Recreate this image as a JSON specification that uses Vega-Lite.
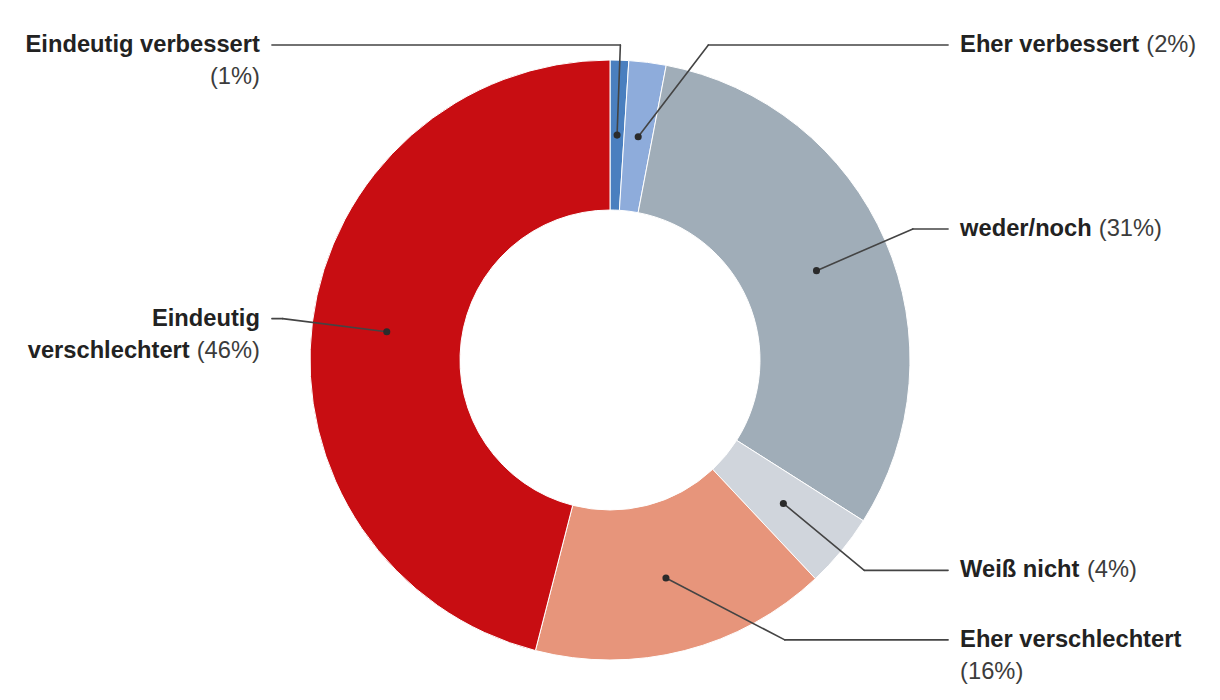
{
  "$schema": "https://vega.github.io/schema/vega-lite/v6.json",
  "width": 1220,
  "height": 680,
  "autosize": "none",
  "padding": {"left": 0, "right": 0, "top": 20, "bottom": 0},
  "background": "#ffffff",
  "config": {"view": {"stroke": null}, "text": {"font": "Liberation Sans"}},
  "data": {
    "values": [
      {"category": "Eindeutig verbessert", "value": 1, "b1": "Eindeutig verbessert", "r1": "", "b2": "", "r2": "(1%)"},
      {"category": "Eher verbessert", "value": 2, "b1": "Eher verbessert", "r1": "(2%)", "b2": "", "r2": ""},
      {"category": "weder/noch", "value": 31, "b1": "weder/noch", "r1": "(31%)", "b2": "", "r2": ""},
      {"category": "Weiß nicht", "value": 4, "b1": "Weiß nicht", "r1": "(4%)", "b2": "", "r2": ""},
      {"category": "Eher verschlechtert", "value": 16, "b1": "Eher verschlechtert", "r1": "", "b2": "", "r2": "(16%)"},
      {"category": "Eindeutig verschlechtert", "value": 46, "b1": "Eindeutig", "r1": "", "b2": "verschlechtert", "r2": "(46%)"}
    ]
  },
  "transform": [
    {"window": [{"op": "row_number", "as": "idx"}, {"op": "sum", "field": "value", "as": "cum"}], "frame": [null, 0]},
    {"joinaggregate": [{"op": "sum", "field": "value", "as": "total"}]},
    {"calculate": "(datum.cum - datum.value / 2) / datum.total", "as": "mid"},
    {"calculate": "2 * PI * datum.mid", "as": "a"},
    {"calculate": "(datum.mid > 0.5 || datum.mid < 0.01) ? -1 : 1", "as": "side"},
    {"calculate": "0.75 * sin(datum.a)", "as": "dotX"},
    {"calculate": "0.75 * cos(datum.a)", "as": "dotY"},
    {"calculate": "1.1 * cos(datum.a)", "as": "ry"},
    {"calculate": "clamp(datum.ry, -0.933, 1.05)", "as": "ly"},
    {"calculate": "(datum.ly != datum.ry && datum.side * sin(datum.a) > 0) ? datum.side * sqrt(max(1.21 - datum.ly * datum.ly, 0)) : 1.1 * sin(datum.a)", "as": "elbowX"},
    {"calculate": "datum.side * 1.127", "as": "endX"},
    {"calculate": "datum.side * 1.167", "as": "labelX"},
    {"calculate": "0.0237*(278*length(replace(datum.b1,regexp('[^ijl /]','g'),''))+333*length(replace(datum.b1,regexp('[^ft]','g'),''))+389*length(replace(datum.b1,regexp('[^r]','g'),''))+556*length(replace(datum.b1,regexp('[^aceksvxyz]','g'),''))+611*length(replace(datum.b1,regexp('[^bdghnopquß]','g'),''))+667*length(replace(datum.b1,regexp('[^E]','g'),''))+778*length(replace(datum.b1,regexp('[^w]','g'),''))+889*length(replace(datum.b1,regexp('[^m]','g'),''))+944*length(replace(datum.b1,regexp('[^W]','g'),'')))", "as": "wb1"},
    {"calculate": "0.0237*(278*length(replace(datum.b2,regexp('[^ijl /]','g'),''))+333*length(replace(datum.b2,regexp('[^ft]','g'),''))+389*length(replace(datum.b2,regexp('[^r]','g'),''))+556*length(replace(datum.b2,regexp('[^aceksvxyz]','g'),''))+611*length(replace(datum.b2,regexp('[^bdghnopquß]','g'),''))+667*length(replace(datum.b2,regexp('[^E]','g'),''))+778*length(replace(datum.b2,regexp('[^w]','g'),''))+889*length(replace(datum.b2,regexp('[^m]','g'),''))+944*length(replace(datum.b2,regexp('[^W]','g'),'')))", "as": "wb2"},
    {"calculate": "0.0237*(333*length(replace(datum.r1,regexp('[^()]','g'),''))+556*length(replace(datum.r1,regexp('[^0-9]','g'),''))+889*length(replace(datum.r1,regexp('[^%]','g'),''))+278*length(replace(datum.r1,regexp('[^ ]','g'),'')))", "as": "wr1"},
    {"calculate": "0.0237*(333*length(replace(datum.r2,regexp('[^()]','g'),''))+556*length(replace(datum.r2,regexp('[^0-9]','g'),''))+889*length(replace(datum.r2,regexp('[^%]','g'),''))+278*length(replace(datum.r2,regexp('[^ ]','g'),'')))", "as": "wr2"},
    {"calculate": "datum.side > 0 ? datum.labelX : datum.labelX - (datum.r1 ? (datum.wr1 + 7) / 300 : 0)", "as": "xb1"},
    {"calculate": "datum.side > 0 ? datum.labelX + (datum.b1 ? (datum.wb1 + 7) / 300 : 0) : datum.labelX", "as": "xr1"},
    {"calculate": "datum.side > 0 ? datum.labelX : datum.labelX - (datum.r2 ? (datum.wr2 + 7) / 300 : 0)", "as": "xb2"},
    {"calculate": "datum.side > 0 ? datum.labelX + (datum.b2 ? (datum.wb2 + 7) / 300 : 0) : datum.labelX", "as": "xr2"}
  ],
  "layer": [
    {
      "mark": {"type": "arc", "innerRadius": 150, "outerRadius": 300, "stroke": "#ffffff", "strokeWidth": 1},
      "encoding": {
        "theta": {"field": "value", "type": "quantitative", "stack": true},
        "order": {"field": "idx", "type": "quantitative"},
        "color": {
          "field": "category",
          "type": "nominal",
          "legend": null,
          "scale": {
            "domain": ["Eindeutig verbessert", "Eher verbessert", "weder/noch", "Weiß nicht", "Eher verschlechtert", "Eindeutig verschlechtert"],
            "range": ["#4a7fbf", "#8eacdb", "#a0adb8", "#d0d5dc", "#e7957b", "#c80d12"]
          }
        }
      }
    },
    {
      "mark": {"type": "rule", "color": "#444444", "strokeWidth": 1.6, "strokeCap": "round"},
      "encoding": {
        "x": {"field": "dotX", "type": "quantitative", "scale": {"domain": [-2.03333, 2.03333], "nice": false, "zero": false}, "axis": null},
        "y": {"field": "dotY", "type": "quantitative", "scale": {"domain": [-1.13333, 1.13333], "nice": false, "zero": false}, "axis": null},
        "x2": {"field": "elbowX"},
        "y2": {"field": "ly"}
      }
    },
    {
      "mark": {"type": "rule", "color": "#444444", "strokeWidth": 1.6, "strokeCap": "round"},
      "encoding": {
        "x": {"field": "elbowX", "type": "quantitative", "scale": {"domain": [-2.03333, 2.03333], "nice": false, "zero": false}, "axis": null},
        "y": {"field": "ly", "type": "quantitative", "scale": {"domain": [-1.13333, 1.13333], "nice": false, "zero": false}, "axis": null},
        "x2": {"field": "endX"},
        "y2": {"field": "ly"}
      }
    },
    {
      "mark": {"type": "circle", "color": "#2b2b2b", "size": 50, "opacity": 1},
      "encoding": {
        "x": {"field": "dotX", "type": "quantitative", "scale": {"domain": [-2.03333, 2.03333], "nice": false, "zero": false}, "axis": null},
        "y": {"field": "dotY", "type": "quantitative", "scale": {"domain": [-1.13333, 1.13333], "nice": false, "zero": false}, "axis": null}
      }
    },
    {
      "mark": {"type": "text", "fontSize": 23.7, "fontWeight": "bold", "color": "#222222", "baseline": "middle", "align": {"expr": "datum.side > 0 ? 'left' : 'right'"}},
      "encoding": {
        "x": {"field": "xb1", "type": "quantitative", "scale": {"domain": [-2.03333, 2.03333], "nice": false, "zero": false}, "axis": null},
        "y": {"field": "ly", "type": "quantitative", "scale": {"domain": [-1.13333, 1.13333], "nice": false, "zero": false}, "axis": null},
        "text": {"field": "b1"}
      }
    },
    {
      "mark": {"type": "text", "fontSize": 23.7, "fontWeight": "normal", "color": "#3c3c3c", "baseline": "middle", "align": {"expr": "datum.side > 0 ? 'left' : 'right'"}},
      "encoding": {
        "x": {"field": "xr1", "type": "quantitative", "scale": {"domain": [-2.03333, 2.03333], "nice": false, "zero": false}, "axis": null},
        "y": {"field": "ly", "type": "quantitative", "scale": {"domain": [-1.13333, 1.13333], "nice": false, "zero": false}, "axis": null},
        "text": {"field": "r1"}
      }
    },
    {
      "mark": {"type": "text", "fontSize": 23.7, "fontWeight": "bold", "color": "#222222", "baseline": "middle", "dy": 32, "align": {"expr": "datum.side > 0 ? 'left' : 'right'"}},
      "encoding": {
        "x": {"field": "xb2", "type": "quantitative", "scale": {"domain": [-2.03333, 2.03333], "nice": false, "zero": false}, "axis": null},
        "y": {"field": "ly", "type": "quantitative", "scale": {"domain": [-1.13333, 1.13333], "nice": false, "zero": false}, "axis": null},
        "text": {"field": "b2"}
      }
    },
    {
      "mark": {"type": "text", "fontSize": 23.7, "fontWeight": "normal", "color": "#3c3c3c", "baseline": "middle", "dy": 32, "align": {"expr": "datum.side > 0 ? 'left' : 'right'"}},
      "encoding": {
        "x": {"field": "xr2", "type": "quantitative", "scale": {"domain": [-2.03333, 2.03333], "nice": false, "zero": false}, "axis": null},
        "y": {"field": "ly", "type": "quantitative", "scale": {"domain": [-1.13333, 1.13333], "nice": false, "zero": false}, "axis": null},
        "text": {"field": "r2"}
      }
    }
  ]
}
